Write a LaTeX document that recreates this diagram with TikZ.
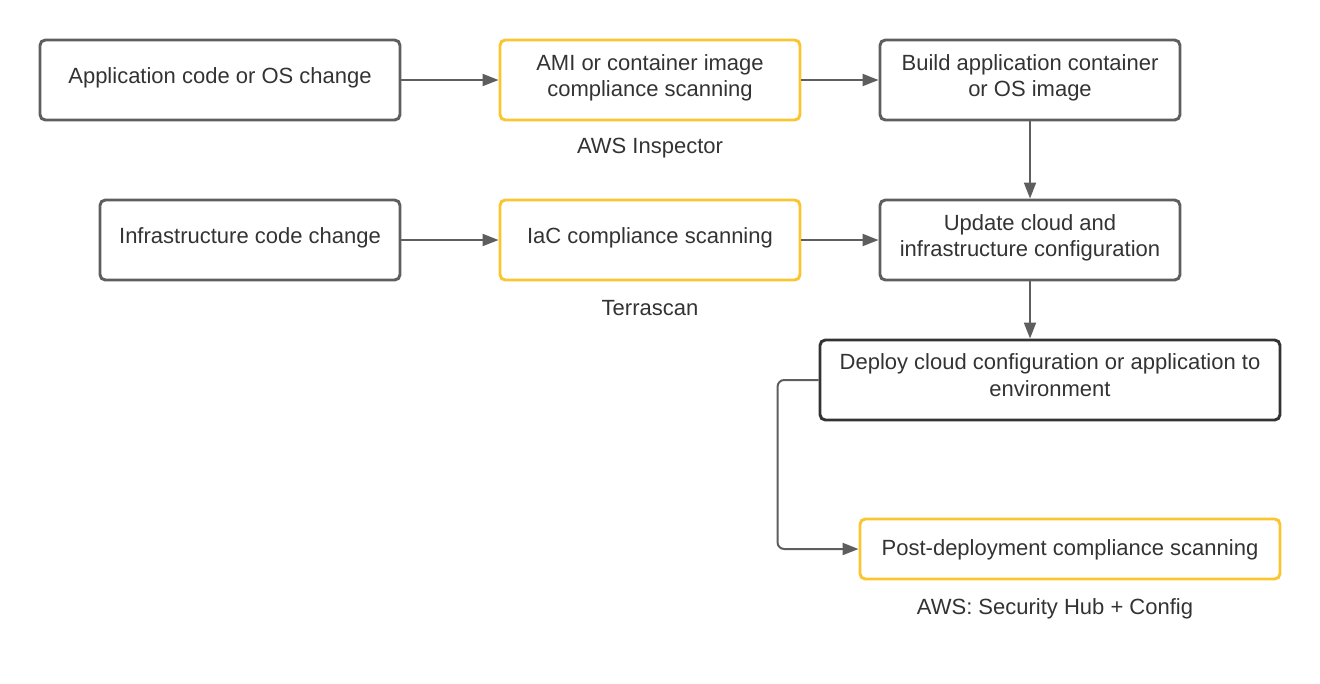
\documentclass[tikz,border=0pt]{standalone}
\usepackage{fontspec}
\setmainfont{Liberation Sans}
\usetikzlibrary{arrows.meta}
\definecolor{boxgrey}{HTML}{5E5E5E}
\definecolor{boxdark}{HTML}{333333}
\definecolor{boxyellow}{HTML}{FBC531}
\definecolor{txt}{HTML}{333333}
\definecolor{linegrey}{HTML}{5E5E5E}
\tikzset{
  base/.style={rectangle, rounded corners=4pt, line width=2.2pt, inner sep=0pt},
  greybox/.style={base, draw=boxgrey},
  darkbox/.style={base, draw=boxdark},
  yellowbox/.style={base, draw=boxyellow},
  lbl/.style={text=txt, align=center, font=\fontsize{16.5}{20}\selectfont, inner sep=0pt},
  txtin/.style={label={[lbl, yshift=1.6pt]center:{#1}}},
  txtraise/.style 2 args={label={[lbl, yshift=#1]center:{#2}}},
  conn/.style={draw=linegrey, line width=1.5pt, -{Triangle[length=12pt,width=9pt]}},
}
\begin{document}
\begin{tikzpicture}[x=0.75pt,y=-0.75pt]
\useasboundingbox (0,0) rectangle (1320,683);
\node[greybox, minimum width=270pt, minimum height=60pt, txtin={Application code or OS change}] (app) at (220,80) {};
\node[yellowbox, minimum width=225pt, minimum height=60pt, txtin={AMI or container image\\compliance scanning}] (ami) at (650,80) {};
\node[greybox, minimum width=225pt, minimum height=60pt, txtin={Build application container\\or OS image}] (build) at (1030,80) {};
\node[greybox, minimum width=225pt, minimum height=60pt, txtin={Infrastructure code change}] (infra) at (250,240) {};
\node[yellowbox, minimum width=225pt, minimum height=60pt, txtin={IaC compliance scanning}] (iac) at (650,240) {};
\node[greybox, minimum width=225pt, minimum height=60pt, txtin={Update cloud and\\infrastructure configuration}] (update) at (1030,240) {};
\node[darkbox, minimum width=345pt, minimum height=60pt, txtraise={3.8pt}{Deploy cloud configuration or application to\\environment}] (deploy) at (1050,380) {};
\node[yellowbox, minimum width=315pt, minimum height=45pt, txtraise={-0.6pt}{Post-deployment compliance scanning}] (post) at (1070,549) {};
\node[lbl] (l1) at (650,148) {AWS Inspector};
\node[lbl] (l2) at (650,308) {Terrascan};
\node[lbl] (l3) at (1055,609) {AWS: Security Hub + Config};
\draw[conn] (app) -- (ami);
\draw[conn] (ami) -- (build);
\draw[conn] (build) -- (update);
\draw[conn] (infra) -- (iac);
\draw[conn] (iac) -- (update);
\draw[conn] (update.south) -- (update.south |- deploy.north);
\draw[conn, rounded corners=5pt] (deploy.west) -- ++(-41,0) |- (post.west);
\end{tikzpicture}
\end{document}
